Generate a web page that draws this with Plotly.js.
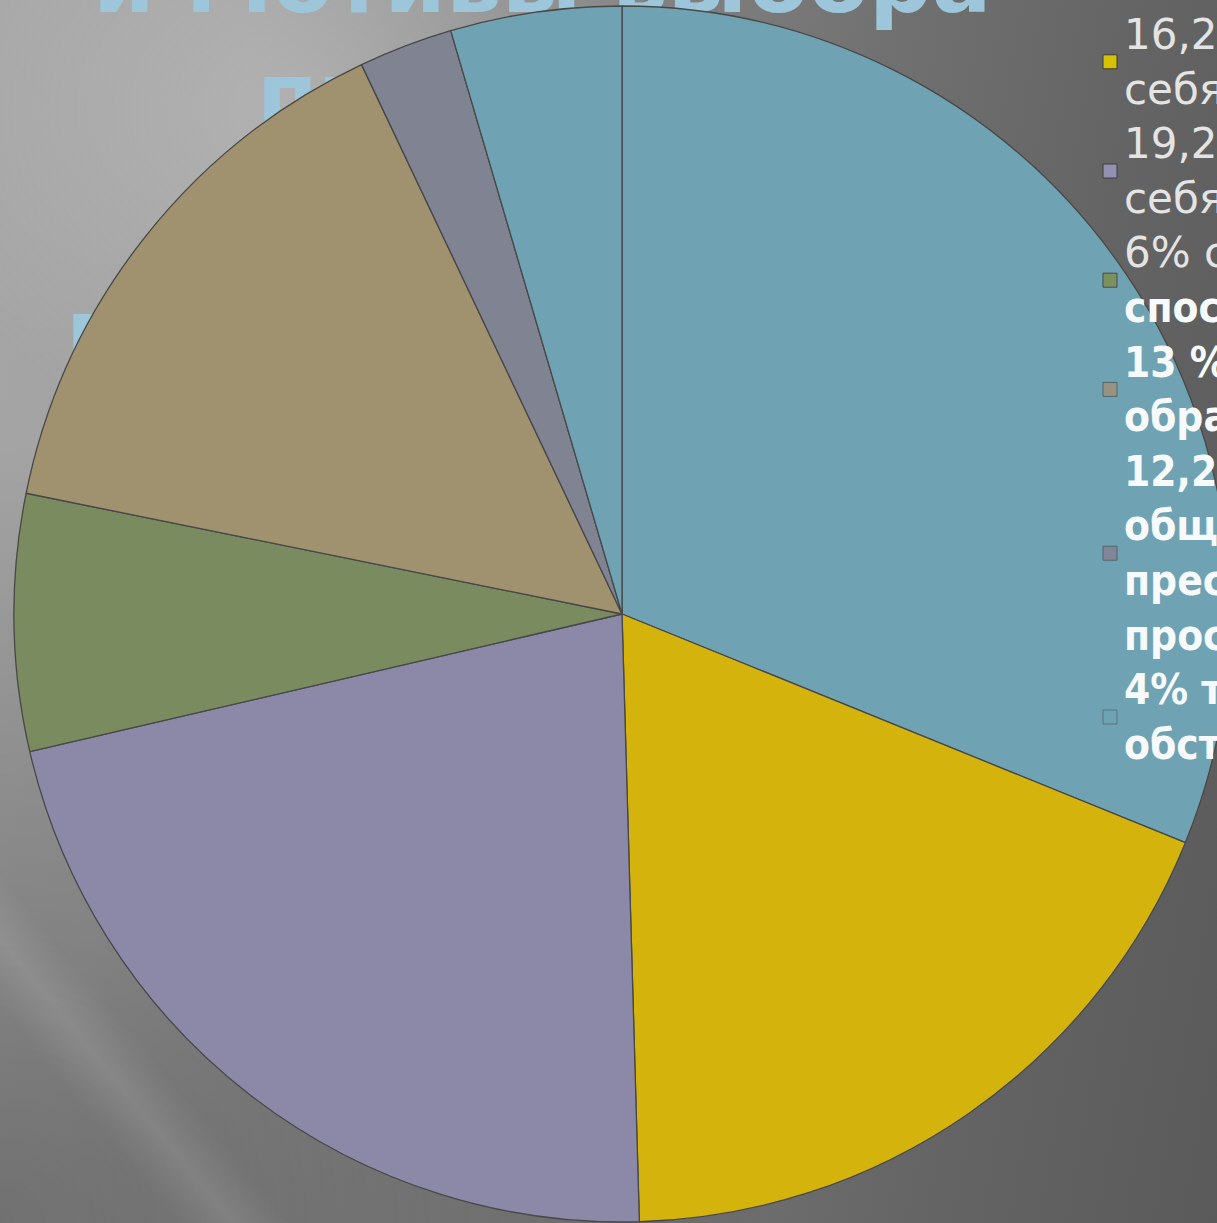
<!DOCTYPE html>
<html>
<head>
<meta charset="utf-8">
<script src="https://cdn.plot.ly/plotly-3.0.1.min.js"></script>
<style>
html, body { margin:0; padding:0; width:1217px; height:1223px; overflow:hidden; }
body {
  background:
    linear-gradient(50.5deg, rgba(255,255,255,0) 8%, rgba(255,255,255,0.10) 10.5%, rgba(255,255,255,0) 13%),
    radial-gradient(ellipse 32% 28% at 24% 9%, rgba(200,200,200,0.45), rgba(200,200,200,0) 100%),
    radial-gradient(circle at 0% 100%, rgba(0,0,0,0.3) 0, rgba(0,0,0,0) 45%),
    linear-gradient(100deg, #a6a6a6 0%, #a0a0a0 18%, #8a8a8a 38%, #717171 62%, #646464 80%, #5a5a5a 100%);
}
#chart { position:absolute; left:0; top:0; width:1260px; height:1223px; }
</style>
</head>
<body>
<div id="chart"></div>
<script>
// ---- data ----
const categories = [
  "27,4% интерес к профессии<br>педагога",
  "16,2% желание проявить<br>себя в профессии",
  "19,2% стремление реализовать<br>себя в работе с детьми",
  "6% соответствие профессии<br>способностям",
  "13 % получение высшего<br>образования",
  "12,2% возможность<br>общения с детьми,<br>престиж профессии,<br>простота поступления",
  "4% требование<br>обстоятельств"
];
const values = [27.4, 16.2, 19.2, 6, 13, 2.2, 4];
const titleLines = ["и Мотивы выбора", "профессии", "первокурсников"];

// ---- style ----
const colors = ['#6fa2b3', '#d3b30c', '#8c88a8', '#798b5f', '#a1926f', '#808392', '#6fa2b3'];
const markerColors = ['#6fa2b3', '#d6c200', '#9490b2', '#7e9050', '#b08a62', '#8e7484', '#6fa2b3'];
const markerOpacity = [1, 1, 1, 0.85, 0.6, 0.6, 0.45];
const W = 1260, H = 1223;
const fx = x => x / W;
const fy = y => 1 - y / H;

const cx = 622, cy = 614, R = 608;

// title fragments (behind the pie)
const titlePos = [{x: 90, base: 12}, {x: 254, base: 125}, {x: 63, base: 362}];
const titleSize = 88;
const shapes = [];
titleLines.forEach((t, i) => {
  const p = titlePos[i];
  shapes.push({
    type: 'rect', xref: 'paper', yref: 'paper', layer: 'below',
    x0: fx(p.x), x1: fx(p.x + 10),
    y0: fy(p.base - titleSize), y1: fy(p.base - titleSize + 10),
    line: {width: 0}, fillcolor: 'rgba(0,0,0,0)',
    label: {
      text: '<b>' + t + '</b>', textposition: 'top left', xanchor: 'left', yanchor: 'top', padding: 0,
      font: {family: 'DejaVu Sans', size: titleSize, color: '#9dc6da', weight: 'bold'}
    }
  });
});

// legend (text lines + markers)
const annotations = [];
const lineStep = 54.6, firstBaseline = 49 - 2 * lineStep, fontSize = 42;
let k = 0;
categories.forEach((c, i) => {
  const lines = c.split('<br>');
  const centers = [];
  lines.forEach(line => {
    const yc = firstBaseline + lineStep * k - 14.5;
    centers.push(yc);
    const bold = k >= 7;
    annotations.push({
      xref: 'paper', yref: 'paper', x: fx(1122), y: fy(yc), xanchor: 'left', yanchor: 'middle',
      showarrow: false, align: 'left',
      text: bold ? '<b>' + line + '</b>' : line,
      font: {
        family: bold ? 'DejaVu Sans Condensed, Liberation Sans, sans-serif' : 'DejaVu Sans, sans-serif',
        size: fontSize, color: bold ? '#f6fafa' : '#e4e4e4'
      }
    });
    k++;
  });
  const ym = centers.reduce((a, b) => a + b, 0) / centers.length;
  shapes.push({
    type: 'rect', xref: 'paper', yref: 'paper', layer: 'above',
    x0: fx(1103), x1: fx(1117), y0: fy(ym + 7), y1: fy(ym - 7),
    fillcolor: markerColors[i], opacity: markerOpacity[i],
    line: {color: '#3c3c3c', width: 1}
  });
});

const trace = {
  type: 'pie',
  labels: categories,
  values: values,
  sort: false,
  direction: 'clockwise',
  rotation: 0,
  textinfo: 'none',
  hoverinfo: 'label+percent',
  showlegend: false,
  marker: {colors: colors, line: {color: '#484848', width: 1.3}},
  domain: {x: [fx(cx - R), fx(cx + R)], y: [fy(cy + R), fy(cy - R)]}
};

const layout = {
  width: W, height: H,
  margin: {l: 0, r: 0, t: 0, b: 0, pad: 0},
  paper_bgcolor: 'rgba(0,0,0,0)',
  plot_bgcolor: 'rgba(0,0,0,0)',
  showlegend: false,
  shapes: shapes,
  annotations: annotations
};

Plotly.newPlot('chart', [trace], layout, {displayModeBar: false, staticPlot: true});
</script>
</body>
</html>
